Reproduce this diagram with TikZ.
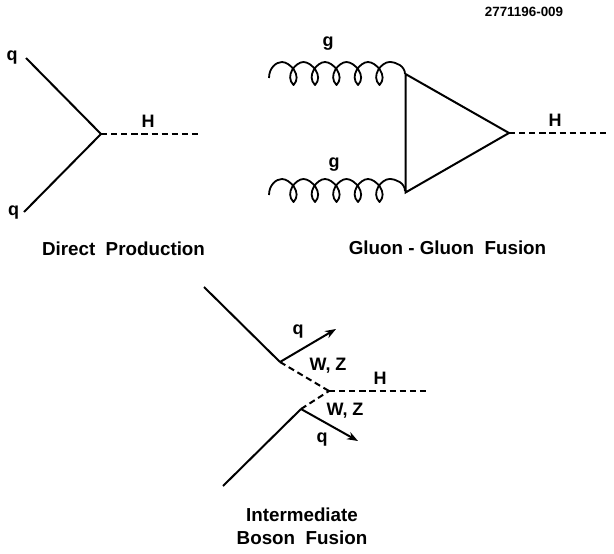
\documentclass[tikz,border=0pt]{standalone}
\usepackage{fontspec}
\setmainfont{Liberation Sans}
\usetikzlibrary{arrows.meta}
\tikzset{
  fermion/.style={line width=2pt},
  scalar/.style={line width=2pt,dash pattern=on 6.2pt off 3.9pt},
  gluon/.style={line width=1.8pt,line join=round},
  emitted/.style={line width=2pt,-{Stealth[length=11pt,width=8pt]}},
  lbl/.style={font=\fontsize{18}{20}\selectfont\bfseries,inner sep=0pt},
  caption/.style={font=\fontsize{18.8}{22.5}\selectfont\bfseries,inner sep=0pt,align=center},
  tag/.style={font=\fontsize{13.4}{15}\selectfont\bfseries,inner sep=0pt}
}
% One gluon: arch, five narrow pointed loops, closing arch. #1 = x start, #2 = y of arch tops
\newcommand{\gluonline}[2]{%
  \draw[gluon] (#1,#2+16) .. controls (#1,#2+6) and (#1+7,#2) .. (#1+13,#2)
    \foreach \k in {0,...,4} {
      .. controls (#1+13+\k*21.5+8,#2) and (#1+13+\k*21.5+20.5,#2+14) .. (#1+13+\k*21.5+11.5,#2+23)
      .. controls (#1+13+\k*21.5+2.5,#2+14) and (#1+13+\k*21.5+13.5,#2) .. (#1+13+\k*21.5+21.5,#2)
    }
    .. controls (#1+127,#2) and (#1+136,#2+4) .. (#1+136,#2+12);
}
\begin{document}
\begin{tikzpicture}[x=1pt,y=-1pt]
\useasboundingbox (0,0) rectangle (614,554);

% Direct production
\coordinate (q1) at (26,58);
\coordinate (q2) at (24,212);
\coordinate (v1) at (101,134);
\coordinate (h1) at (199,134);
\draw[fermion] (q1) -- (v1);
\draw[fermion] (q2) -- (v1);
\draw[scalar] (v1) -- (h1);
\node[lbl] (lq1) at (12,57.5) {q};
\node[lbl] (lq2) at (13.5,213) {q};
\node[lbl] (lh1) at (148,121.5) {H};
\node[caption] (cap1) at (123.5,248.5) {Direct\ \ Production};

% Gluon-gluon fusion
\coordinate (t1) at (405.5,74);
\coordinate (t2) at (405.5,192.5);
\coordinate (t3) at (509,133);
\coordinate (h2) at (607,133);
\gluonline{269}{62}
\gluonline{269}{179}
\draw[fermion,line join=miter] (t1) -- (t2) -- (t3) -- cycle;
\draw[scalar] (t3) -- (h2);
\node[lbl] (lg1) at (328,44) {g};
\node[lbl] (lg2) at (334,165) {g};
\node[lbl] (lh2) at (555,120.5) {H};
\node[caption] (cap2) at (447.5,248) {Gluon - Gluon\ \ Fusion};

% Intermediate boson fusion
\coordinate (a1) at (204,287);
\coordinate (a2) at (280,362);
\coordinate (a3) at (336,329);
\coordinate (b1) at (223,486);
\coordinate (b2) at (301,409);
\coordinate (b3) at (358,441);
\coordinate (v3) at (329,391);
\coordinate (h3) at (428,391);
\draw[fermion] (a1) -- (a2);
\draw[fermion] (b1) -- (b2);
\draw[emitted] (a2) -- (a3);
\draw[emitted] (b2) -- (b3);
\draw[scalar] (a2) -- (v3);
\draw[scalar] (b2) -- (v3);
\draw[scalar] (v3) -- (h3);
\node[lbl] (lq3) at (298,332) {q};
\node[lbl] (lq4) at (322,440) {q};
\node[lbl] (lh3) at (380,378) {H};
\node[lbl] (lwz1) at (328,366) {W, Z};
\node[lbl] (lwz2) at (345,411) {W, Z};
\node[caption] (cap3) at (302,526.5) {Intermediate\\Boson\ \ Fusion};

\node[tag] (id) at (524,12) {2771196-009};
\end{tikzpicture}
\end{document}
